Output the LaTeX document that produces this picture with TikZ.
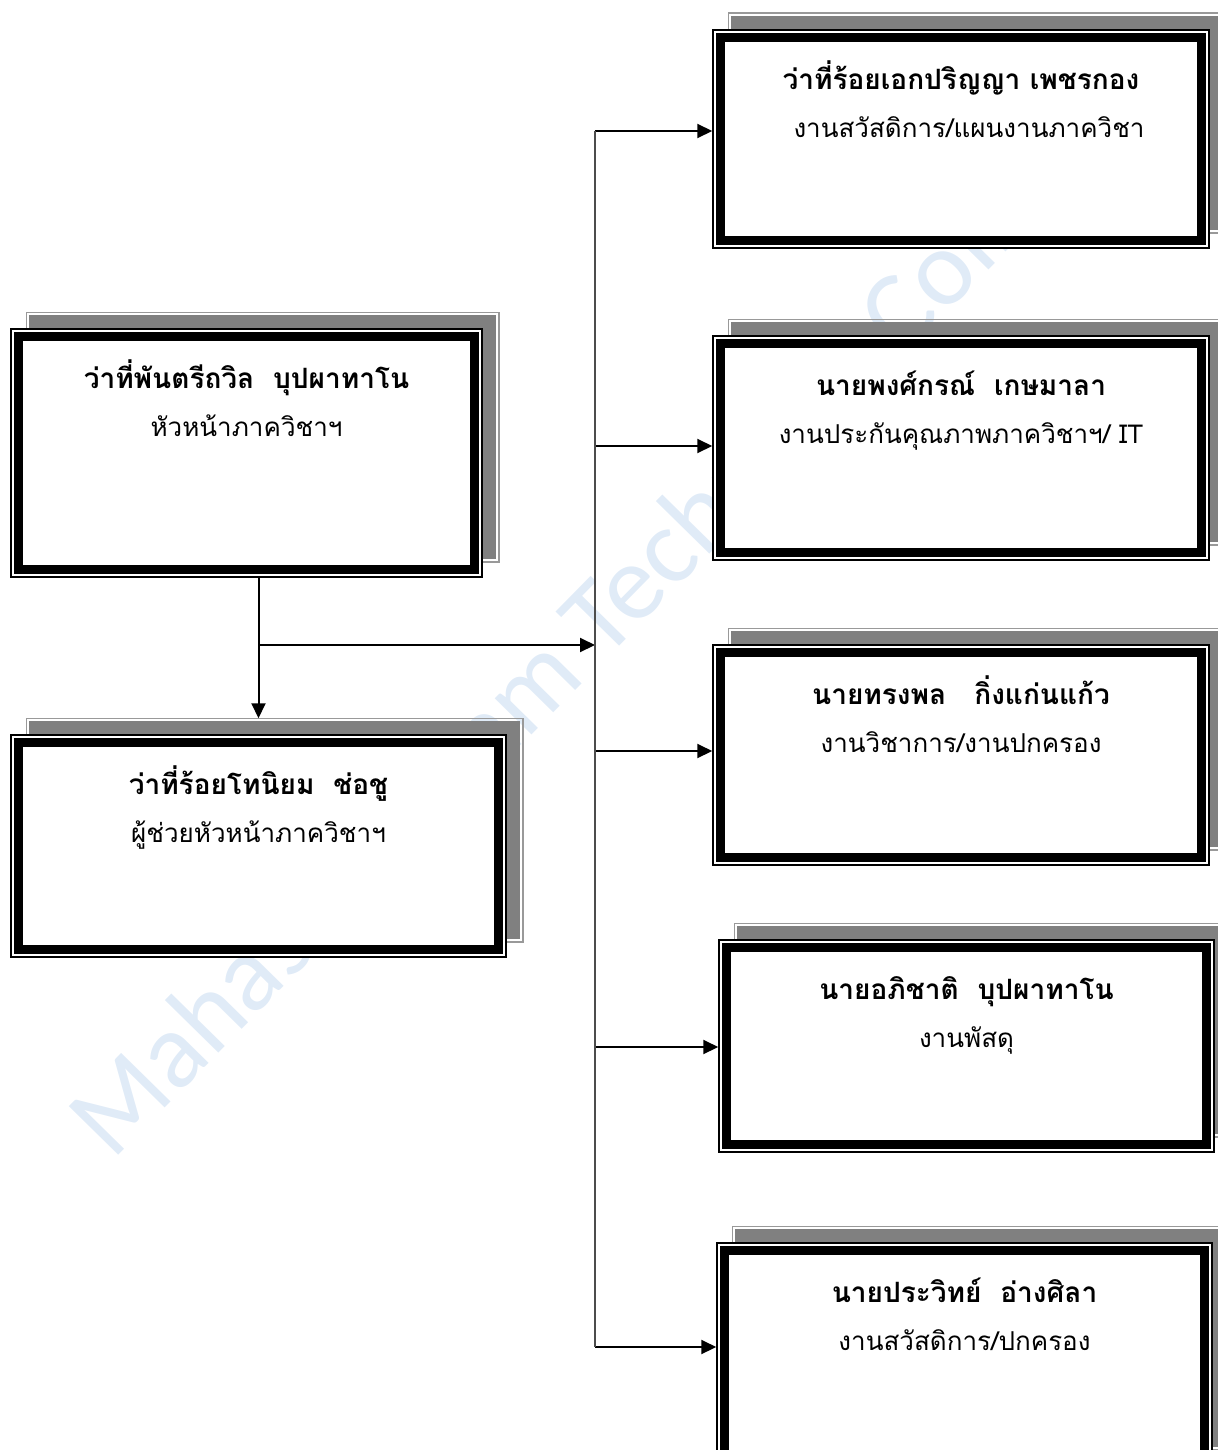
\documentclass[tikz,border=0pt]{standalone}
\usepackage{fontspec}
\newfontfamily\thaifont[Script=Thai]{Loma}
\newfontfamily\markfont{Carlito}
\usetikzlibrary{arrows.meta,backgrounds,positioning}
\definecolor{markblue}{RGB}{224,235,247}

\begin{document}
\begin{tikzpicture}[x=0.5pt, y=-0.5pt,
		staffbox/.style={draw, line width=0.75pt, fill=white, inner sep=0pt},
		innerframe/.style={line width=4.5pt},
		shadowline/.style={draw=black!40, line width=0.75pt},
		shadowfill/.style={fill=black!50},
		nametext/.style={font=\thaifont\bfseries\fontsize{14}{24}\selectfont, anchor=base, inner sep=0pt},
		dutytext/.style={font=\thaifont\fontsize{13}{24}\selectfont, anchor=base, inner sep=0pt},
		link/.style={line width=1pt, -{Triangle[length=7.5pt,width=7pt]}},
		bus/.style={line width=0.75pt, draw=black!70},
		watermark/.style={font=\markfont\fontsize{54}{54}\selectfont, text=markblue, rotate=45.5, anchor=base west, inner sep=0pt}]
				\useasboundingbox (0,0) rectangle (1218,1450);

				% boxes
				\node[staffbox, minimum width=235.5pt, minimum height=124pt] (head) at (246.5,453) {};
				\node[staffbox, minimum width=247.5pt, minimum height=111pt] (deputy) at (258.5,846) {};
				\node[staffbox, minimum width=248pt, minimum height=109pt] (welfare) at (961,139) {};
				\node[staffbox, minimum width=248pt, minimum height=112pt] (quality) at (961,448) {};
				\node[staffbox, minimum width=248pt, minimum height=110pt] (academic) at (961,755) {};
				\node[staffbox, minimum width=247.5pt, minimum height=106pt] (supply) at (966.5,1046) {};
				\node[staffbox, minimum width=247.5pt, minimum height=111pt] (discipline) at (964.5,1354) {};

				\foreach \n in {head,deputy,welfare,quality,academic,supply,discipline}
					\draw[innerframe] ([shift={(8,-8)}]\n.south west) rectangle ([shift={(-8,8)}]\n.north east);

				% shadows and watermark
				\begin{scope}[on background layer]
					\node[watermark] (mark) at (112,1162) {Mahasarakham Technical College};
					\foreach \n in {head,deputy,welfare,quality,academic,supply,discipline} {
						\draw[shadowline] ([shift={(16,-16)}]\n.south west) rectangle ([shift={(16,-16)}]\n.north east);
						\fill[shadowfill] ([shift={(19,-19)}]\n.south west) rectangle ([shift={(13,-13)}]\n.north east);
					}
				\end{scope}

				% texts
				\node[nametext] (head-name) at ([yshift=-30pt]head.north) {ว่าที่พันตรีถวิล\ \ บุปผาทาโน};
				\node[dutytext] (head-duty) at ([yshift=-24pt]head-name.base) {หัวหน้าภาควิชาฯ};
				\node[nametext] (deputy-name) at ([yshift=-30pt]deputy.north) {ว่าที่ร้อยโทนิยม\ \ ช่อชู};
				\node[dutytext] (deputy-duty) at ([yshift=-24pt]deputy-name.base) {ผู้ช่วยหัวหน้าภาควิชาฯ};
				\node[nametext] (welfare-name) at ([yshift=-30pt]welfare.north) {ว่าที่ร้อยเอกปริญญา เพชรกอง};
				\node[dutytext] (welfare-duty) at ([xshift=4pt,yshift=-24pt]welfare-name.base) {งานสวัสดิการ/แผนงานภาควิชา};
				\node[nametext] (quality-name) at ([yshift=-30pt]quality.north) {นายพงศ์กรณ์\ \ เกษมาลา};
				\node[dutytext] (quality-duty) at ([yshift=-24pt]quality-name.base) {งานประกันคุณภาพภาควิชาฯ/ IT};
				\node[nametext] (academic-name) at ([yshift=-30pt]academic.north) {นายทรงพล\ \ \ กิ่งแก่นแก้ว};
				\node[dutytext] (academic-duty) at ([yshift=-24pt]academic-name.base) {งานวิชาการ/งานปกครอง};
				\node[nametext] (supply-name) at ([yshift=-30pt]supply.north) {นายอภิชาติ\ \ บุปผาทาโน};
				\node[dutytext] (supply-duty) at ([yshift=-24pt]supply-name.base) {งานพัสดุ};
				\node[nametext] (discipline-name) at ([yshift=-30pt]discipline.north) {นายประวิทย์\ \ อ่างศิลา};
				\node[dutytext] (discipline-duty) at ([yshift=-24pt]discipline-name.base) {งานสวัสดิการ/ปกครอง};

				% connectors
				\coordinate (split) at (258.5,645);
				\coordinate (bus-mid) at (595,645);
				\draw[link] (head.south -| deputy.north) -- ([yshift=8pt]deputy.north);
				\draw[link] (split) -- (bus-mid);
				\foreach \n/\y in {welfare/131, quality/446, academic/751, supply/1047, discipline/1347} {
					\coordinate (bus-\n) at (595,\y);
					\draw[link] (bus-\n) -- (bus-\n -| \n.west);
				}
				\draw[bus] (bus-welfare) -- (bus-discipline);
		\end{tikzpicture}
\end{document}
